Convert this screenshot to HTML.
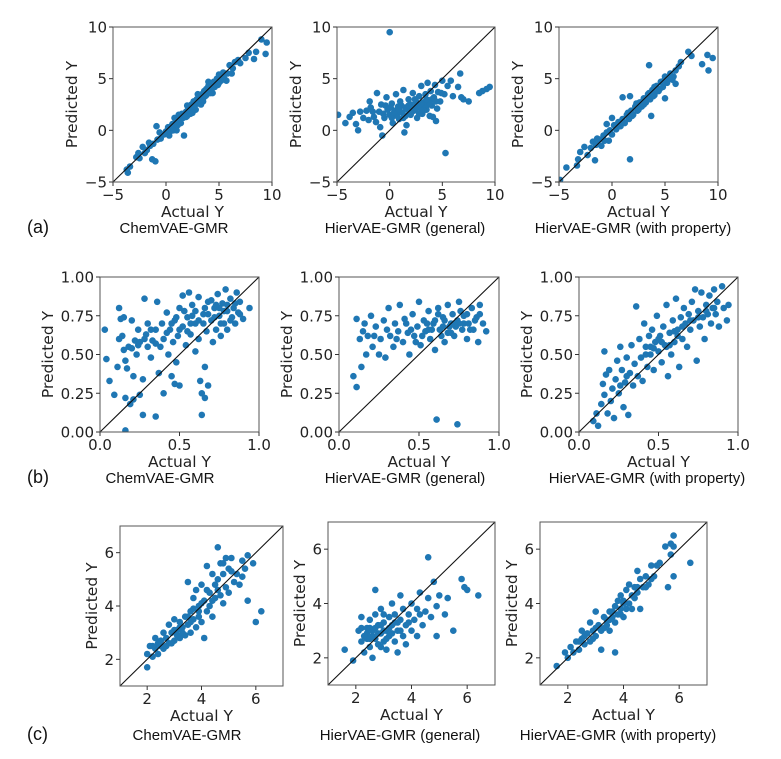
<!DOCTYPE html>
<html><head><meta charset="utf-8">
<style>
html,body{margin:0;padding:0;background:#fff;}
svg{display:block;font-family:"DejaVu Sans","Liberation Sans",sans-serif;}
</style></head>
<body>
<svg id="fig" width="781" height="759" viewBox="0 0 781 759" xmlns="http://www.w3.org/2000/svg"></svg>
<script>
const a1Pts=[[-3.7,-3.8],[-3.6,-4.1],[-3.4,-3.5],[-2.8,-2.6],[-2.5,-2.7],[-2.2,-1.6],[-2,-2.2],[-1.8,-1.9],[-1.5,-1.5],[-1.2,-1.3],[-1,-3],[-1.3,-2.8],[-0.9,0.4],[-0.6,-0.2],[-0.5,-0.8],[-0.2,-0.4],[0,-0.1],[0.2,0.3],[0.3,-0.5],[0.5,0.2],[0.6,0.6],[0.8,0.4],[0.9,0.1],[1,0.9],[1.1,0.5],[1.3,1.1],[1.4,0.7],[1.5,1.6],[1.6,1.2],[1.7,-0.5],[1.8,1.5],[1.9,1.8],[2,1.4],[2.1,2.2],[2.2,1.9],[2.3,1.6],[2.4,2.5],[2.5,2.1],[2.6,2.8],[2.7,2.4],[2.8,2.0],[2.9,3.0],[3,2.6],[3.1,3.3],[3.2,2.9],[3.3,2.5],[3.4,3.5],[3.5,3.1],[3.6,3.8],[3.7,3.3],[3.8,4.0],[3.9,3.6],[4,4.3],[4.1,3.8],[4.2,4.5],[4.3,4.0],[4.4,3.6],[4.5,4.7],[4.6,4.2],[4.8,5.0],[4.9,4.4],[5,5.4],[5.2,4.8],[5.4,5.6],[5.5,5.0],[5.7,4.8],[5.8,5.5],[6,6.3],[6.3,6.0],[6.5,6.6],[6.8,6.8],[7,6.5],[7.5,7.0],[7.8,7.5],[8.3,6.9],[8.5,7.6],[9,8.8],[9.4,7.4],[9.5,8.5],[0.8,1.2],[1.2,1.5],[2.0,2.4],[3.0,3.5],[4.0,4.7],[1.0,0.0],[2.5,1.7],[3.5,2.8],[-2.6,-2.2],[-1.6,-1.2],[-0.8,-0.9],[0.4,-0.1],[0.7,0.0],[1.2,0.9],[1.9,1.3],[2.6,2.3],[3.4,3.0],[4.2,3.6],[4.7,4.5],[5.3,5.2],[6.2,5.5],[5.0,4.6],[3.8,3.4]];
const a2Pts=[[0.0,9.5],[5.3,-2.2],[-4.9,1.5],[9.5,4.2],[9.2,4],[8.8,3.8],[8.5,3.6],[7.5,2.8],[7,3],[6.7,5.5],[6.5,4.2],[6.8,3.2],[-4.2,0.7],[-3.5,1.7],[-3.2,0.6],[-3,0],[-2.8,1.8],[-2.5,1.2],[-2.2,1.9],[-2,1.0],[-1.8,2.2],[-1.5,1.3],[-1.3,0.8],[-1.2,3.6],[-1,1.8],[-0.8,2.5],[-0.7,-0.5],[-0.5,1.2],[-0.3,3.2],[-0.2,2.0],[0,1.5],[0.2,2.6],[0.3,0.7],[0.5,1.9],[0.6,3.5],[0.8,2.3],[0.9,1.1],[1,2.8],[1.2,1.7],[1.3,3.9],[1.5,2.2],[1.6,0.5],[1.8,3.0],[1.9,1.6],[2,2.5],[2.2,3.6],[2.3,1.9],[2.5,2.8],[2.6,1.2],[2.8,3.3],[2.9,2.2],[3,4.3],[3.1,1.6],[3.2,2.7],[3.4,3.5],[3.5,2.0],[3.6,4.6],[3.7,2.9],[3.8,1.4],[3.9,3.8],[4,2.4],[4.2,3.2],[4.3,4.4],[4.5,2.1],[4.6,3.7],[4.8,2.8],[5,4.8],[5.2,3.5],[5.5,4.3],[5.8,4.8],[6,3.3],[4.1,1.3],[-3.8,1.3],[-1.9,2.8],[0.1,2.2],[1.1,2.4],[2.1,1.8],[3.3,2.4],[2.7,2.3],[1.7,2.0],[0.7,1.4],[-0.6,1.6],[4.4,0.9],[1.4,-0.2],[-0.9,0.3],[2.4,2.0],[3.0,2.6],[3.6,2.5],[2.0,1.5],[1.0,1.8],[4.0,3.0],[3.2,1.9],[2.6,2.6],[1.5,1.4],[0.4,1.7],[-1.6,1.8],[-0.4,2.4],[0.9,2.0],[1.8,2.4],[2.4,3.0],[3.0,1.9],[3.8,2.6],[4.4,2.8],[2.2,2.2],[1.3,1.2],[0.2,1.2],[3.5,3.0],[2.8,1.6],[4.9,3.6]];
const a3Pts=[[3.5,6.3],[1.7,-2.8],[-4.9,-4.8],[-4.3,-3.6],[8.5,6.4],[9,7.3],[9.1,5.8],[9.5,7],[7.2,7.6],[7.5,7.2],[6.5,6.6],[-1.6,-2.9],[-0.5,0.6],[-0.3,-1.0],[3.7,1.4],[5,3.1],[6,4.5],[4,3.5],[1,3.2],[1.7,3.3],[0,1.2],[-3.3,-3.4],[-3.2,-2.8],[-3,-2.1],[-2.6,-1.6],[-2.3,-2.4],[-2,-1.7],[-1.8,-1.1],[-1.5,-1.4],[-1.2,-0.9],[-1,-1.5],[-0.8,-0.5],[-0.5,-0.2],[-0.2,0.0],[0,-0.4],[0.2,0.5],[0.4,0.1],[0.6,0.8],[0.8,0.4],[1,1.1],[1.2,0.7],[1.4,1.5],[1.6,1.1],[1.8,1.9],[2,1.5],[2.2,2.3],[2.4,1.9],[2.6,2.7],[2.8,2.3],[3,3.1],[3.2,2.7],[3.4,3.5],[3.6,3.0],[3.8,3.9],[4,3.4],[4.2,4.3],[4.4,3.8],[4.6,4.7],[4.8,4.2],[5,5.2],[5.2,4.6],[5.5,5.5],[5.7,4.9],[6,5.8],[6.3,6.2],[2.5,2.0],[3.5,3.6],[4.5,4.0],[1.5,1.7],[0.5,0.3],[3.0,2.5],[4.0,4.2],[5.8,5.2],[-1.4,-0.8],[-0.7,-1.0],[0.9,0.9],[1.9,1.4],[2.9,2.8],[3.9,3.3],[4.9,4.8],[5.4,5.0],[2.3,2.6],[3.3,3.0]];
const b1Pts=[[0.03,0.66],[0.04,0.47],[0.06,0.33],[0.09,0.24],[0.11,0.42],[0.12,0.8],[0.12,0.6],[0.13,0.73],[0.14,0.62],[0.15,0.53],[0.15,0.74],[0.16,0.46],[0.16,0.22],[0.16,0.01],[0.17,0.41],[0.18,0.55],[0.19,0.18],[0.2,0.72],[0.21,0.36],[0.21,0.21],[0.22,0.59],[0.23,0.5],[0.24,0.66],[0.25,0.24],[0.25,0.58],[0.27,0.34],[0.27,0.11],[0.28,0.86],[0.29,0.63],[0.3,0.55],[0.3,0.7],[0.32,0.48],[0.33,0.59],[0.35,0.1],[0.35,0.66],[0.36,0.84],[0.37,0.38],[0.38,0.55],[0.39,0.7],[0.4,0.6],[0.4,0.25],[0.42,0.77],[0.43,0.5],[0.44,0.66],[0.45,0.36],[0.46,0.58],[0.47,0.31],[0.47,0.72],[0.48,0.45],[0.49,0.62],[0.5,0.8],[0.5,0.3],[0.52,0.68],[0.52,0.88],[0.54,0.56],[0.55,0.74],[0.56,0.9],[0.57,0.63],[0.58,0.82],[0.6,0.7],[0.6,0.52],[0.62,0.87],[0.62,0.6],[0.63,0.33],[0.64,0.11],[0.64,0.25],[0.65,0.76],[0.66,0.22],[0.66,0.42],[0.67,0.65],[0.68,0.3],[0.68,0.84],[0.7,0.72],[0.71,0.58],[0.72,0.8],[0.73,0.66],[0.74,0.89],[0.75,0.75],[0.76,0.62],[0.77,0.83],[0.78,0.7],[0.79,0.92],[0.8,0.78],[0.8,0.66],[0.82,0.86],[0.83,0.74],[0.84,0.8],[0.85,0.7],[0.86,0.9],[0.87,0.77],[0.88,0.84],[0.9,0.73],[0.94,0.8],[0.55,0.65],[0.6,0.78],[0.7,0.85],[0.75,0.8],[0.8,0.82],[0.65,0.7],[0.45,0.7],[0.58,0.75],[0.85,0.83],[0.62,0.72],[0.72,0.74],[0.78,0.78],[0.5,0.66],[0.24,0.56],[0.28,0.6],[0.32,0.66],[0.42,0.64],[0.48,0.74],[0.53,0.78],[0.57,0.7],[0.68,0.76],[0.73,0.82],[0.82,0.72],[0.88,0.76],[0.76,0.7],[0.66,0.8],[0.35,0.57],[0.2,0.54]];
const b2Pts=[[0.09,0.36],[0.11,0.29],[0.14,0.42],[0.61,0.08],[0.74,0.05],[0.11,0.73],[0.13,0.6],[0.15,0.65],[0.17,0.5],[0.18,0.62],[0.2,0.75],[0.21,0.55],[0.23,0.68],[0.25,0.5],[0.26,0.6],[0.28,0.72],[0.29,0.48],[0.31,0.8],[0.32,0.62],[0.34,0.55],[0.35,0.7],[0.37,0.65],[0.38,0.82],[0.4,0.58],[0.41,0.73],[0.43,0.64],[0.44,0.5],[0.46,0.76],[0.47,0.62],[0.49,0.68],[0.5,0.84],[0.51,0.56],[0.53,0.72],[0.54,0.65],[0.56,0.78],[0.57,0.6],[0.59,0.7],[0.6,0.53],[0.62,0.8],[0.63,0.66],[0.65,0.74],[0.66,0.58],[0.68,0.82],[0.69,0.68],[0.71,0.76],[0.72,0.62],[0.74,0.72],[0.75,0.84],[0.77,0.66],[0.78,0.75],[0.8,0.6],[0.81,0.7],[0.83,0.8],[0.84,0.66],[0.86,0.74],[0.87,0.58],[0.88,0.82],[0.9,0.7],[0.92,0.65],[0.55,0.7],[0.65,0.68],[0.7,0.7],[0.6,0.72],[0.75,0.7],[0.45,0.66],[0.8,0.76],[0.85,0.72],[0.52,0.62],[0.58,0.66],[0.68,0.64],[0.73,0.68],[0.78,0.7],[0.62,0.76],[0.42,0.7],[0.16,0.7],[0.22,0.62],[0.3,0.66],[0.36,0.6],[0.48,0.58],[0.56,0.66],[0.64,0.62],[0.7,0.64],[0.76,0.78],[0.82,0.66],[0.88,0.76],[0.66,0.72],[0.72,0.7]];
const b3Pts=[[0.09,0.07],[0.11,0.12],[0.12,0.04],[0.14,0.18],[0.15,0.31],[0.16,0.24],[0.16,0.52],[0.17,0.37],[0.18,0.12],[0.19,0.4],[0.2,0.2],[0.21,0.28],[0.22,0.09],[0.23,0.34],[0.24,0.46],[0.25,0.25],[0.26,0.55],[0.27,0.4],[0.28,0.16],[0.29,0.32],[0.3,0.48],[0.31,0.11],[0.32,0.38],[0.33,0.56],[0.34,0.3],[0.35,0.44],[0.36,0.81],[0.37,0.36],[0.38,0.6],[0.39,0.48],[0.4,0.33],[0.41,0.7],[0.42,0.55],[0.43,0.42],[0.44,0.62],[0.45,0.5],[0.46,0.66],[0.47,0.4],[0.48,0.58],[0.49,0.75],[0.5,0.52],[0.51,0.62],[0.52,0.45],[0.53,0.68],[0.54,0.56],[0.55,0.82],[0.56,0.36],[0.57,0.64],[0.58,0.5],[0.59,0.72],[0.6,0.58],[0.61,0.86],[0.62,0.66],[0.63,0.42],[0.64,0.74],[0.65,0.6],[0.66,0.8],[0.67,0.7],[0.68,0.55],[0.69,0.76],[0.7,0.66],[0.71,0.84],[0.72,0.72],[0.73,0.92],[0.74,0.46],[0.75,0.78],[0.76,0.68],[0.77,0.9],[0.78,0.74],[0.79,0.6],[0.8,0.82],[0.81,0.76],[0.82,0.88],[0.83,0.7],[0.84,0.8],[0.85,0.92],[0.86,0.76],[0.87,0.84],[0.88,0.68],[0.9,0.94],[0.91,0.8],[0.93,0.72],[0.94,0.82],[0.5,0.6],[0.55,0.55],[0.6,0.65],[0.45,0.55],[0.7,0.72],[0.8,0.78],[0.65,0.68],[0.47,0.54],[0.52,0.58],[0.57,0.56],[0.62,0.62],[0.42,0.5],[0.75,0.74],[0.85,0.8],[0.3,0.36],[0.26,0.3]];
const c1Pts=[[2,1.7],[2,2.2],[2.1,2.5],[2.2,2.1],[2.3,2.8],[2.3,2.4],[2.4,2.2],[2.5,2.7],[2.6,3.0],[2.6,2.4],[2.7,2.8],[2.8,3.3],[2.8,2.6],[2.9,3.0],[3,2.7],[3,3.5],[3.1,3.1],[3.2,2.8],[3.2,3.4],[3.3,3.2],[3.4,3.6],[3.4,2.9],[3.5,4.9],[3.5,3.3],[3.6,3.8],[3.6,3.0],[3.7,4.3],[3.7,3.5],[3.8,4.6],[3.8,3.2],[3.9,4.0],[3.9,3.6],[4,4.8],[4,3.4],[4.1,4.2],[4.1,2.8],[4.2,5.5],[4.2,3.8],[4.3,4.5],[4.3,4.0],[4.4,5.2],[4.4,3.6],[4.5,4.8],[4.5,4.3],[4.6,6.2],[4.6,5.0],[4.7,4.4],[4.7,5.6],[4.8,5.2],[4.8,4.1],[4.9,5.8],[4.9,4.7],[5,5.4],[5,4.5],[5.1,5.8],[5.2,4.9],[5.3,5.2],[5.4,4.8],[5.5,5.7],[5.6,5.4],[5.7,4.2],[5.7,5.9],[5.9,5.6],[6,3.4],[6.2,3.8],[5.5,5.1],[3.0,3.1],[2.5,2.5],[3.3,3.0],[3.9,3.8],[4.4,4.2],[2.4,2.6],[2.7,2.5],[3.1,2.9],[3.6,3.4],[2.2,2.5],[2.9,2.6],[3.5,3.6],[4.0,4.1],[4.6,4.6],[5.1,5.3],[4.8,5.6],[4.2,4.6],[3.7,3.9],[3.2,3.2]];
const c2Pts=[[1.6,2.3],[1.9,1.9],[2.7,4.5],[4.6,5.7],[6.4,4.3],[5.5,3],[4.9,2.8],[5.9,4.6],[5.8,4.9],[6,4.5],[2.1,3.0],[2.2,2.6],[2.2,3.5],[2.3,2.2],[2.4,3.1],[2.4,2.7],[2.5,3.4],[2.5,2.4],[2.6,3.0],[2.6,2.0],[2.7,2.7],[2.7,3.6],[2.8,3.2],[2.8,2.5],[2.9,2.9],[2.9,3.8],[3,3.3],[3,2.6],[3.1,3.0],[3.1,2.3],[3.2,3.5],[3.2,2.8],[3.3,4.0],[3.3,3.2],[3.4,2.6],[3.4,3.6],[3.5,3.0],[3.5,2.2],[3.6,3.4],[3.6,4.3],[3.7,2.8],[3.7,3.8],[3.8,3.2],[3.8,2.5],[3.9,3.6],[4,3.0],[4,4.0],[4.1,3.4],[4.2,2.8],[4.2,3.8],[4.3,4.4],[4.4,3.2],[4.5,3.7],[4.6,4.2],[4.7,3.5],[4.8,4.8],[4.9,3.9],[5,4.3],[5.2,3.6],[5.3,4.2],[2.9,3.2],[3.3,2.9],[2.6,2.8],[3.0,3.0],[3.5,3.3],[2.4,2.9],[2.8,2.9],[3.2,3.1],[2.5,3.1],[3.4,3.3],[2.3,2.8],[2.7,3.1],[3.1,2.7],[3.6,3.0],[2.2,3.1],[3.0,3.6],[3.9,3.3],[4.3,3.6],[2.5,2.7],[2.9,2.4]];
const c3Pts=[[1.6,1.7],[1.9,2.2],[2,2.0],[2.1,2.4],[2.2,2.2],[2.3,2.6],[2.4,2.3],[2.5,2.7],[2.5,3.0],[2.6,2.5],[2.7,2.9],[2.8,2.6],[2.8,3.3],[2.9,3.0],[3,2.8],[3,3.7],[3.1,3.2],[3.2,3.0],[3.2,2.3],[3.3,3.5],[3.4,3.2],[3.5,3.7],[3.5,3.0],[3.6,3.5],[3.7,3.9],[3.7,2.2],[3.7,3.3],[3.8,4.1],[3.8,3.6],[3.9,4.3],[3.9,3.8],[4,4.1],[4,3.5],[4.1,4.5],[4.1,3.8],[4.2,4.7],[4.2,4.0],[4.3,3.8],[4.4,4.6],[4.4,4.2],[4.5,5.2],[4.5,4.4],[4.6,4.9],[4.6,3.8],[4.7,4.6],[4.8,5.0],[4.9,4.7],[5,5.4],[5.1,5.0],[5.2,5.4],[5.3,5.5],[5.5,6.1],[5.6,4.6],[5.7,6.2],[5.7,5.8],[5.8,6.5],[5.8,5.0],[5.8,6.1],[6.4,5.5],[3.4,3.4],[4.0,4.0],[3.0,3.1],[4.8,4.6],[2.6,2.8],[3.3,3.1],[3.6,3.7],[4.3,4.3],[2.4,2.6],[2.9,2.7],[3.5,3.4],[3.9,3.6],[4.5,4.6],[5.0,4.9]];

const rangeA=[-5,10], ticksA=[-5,0,5,10], tickLabA=["\u22125","0","5","10"];
const rangeB=[0,1], ticksBx=[0,0.5,1], tickLabBx=["0.0","0.5","1.0"], ticksBy=[0,0.25,0.5,0.75,1], tickLabBy=["0.00","0.25","0.50","0.75","1.00"];
const rangeC=[1,7], ticksC=[2,4,6], tickLabC=["2","4","6"];

const panels=[
 {id:'a1',box:[113,27,272,182],r:rangeA,xt:ticksA,xl:tickLabA,yt:ticksA,yl:tickLabA,pts:a1Pts,yoff:41},
 {id:'a2',box:[337,27,495,182],r:rangeA,xt:ticksA,xl:tickLabA,yt:ticksA,yl:tickLabA,pts:a2Pts,yoff:41},
 {id:'a3',box:[559,27,718,182],r:rangeA,xt:ticksA,xl:tickLabA,yt:ticksA,yl:tickLabA,pts:a3Pts,yoff:41},
 {id:'b1',box:[100,277,259,432],r:rangeB,xt:ticksBx,xl:tickLabBx,yt:ticksBy,yl:tickLabBy,pts:b1Pts,yoff:52},
 {id:'b2',box:[339,277,499,432],r:rangeB,xt:ticksBx,xl:tickLabBx,yt:ticksBy,yl:tickLabBy,pts:b2Pts,yoff:52},
 {id:'b3',box:[579,277,738,432],r:rangeB,xt:ticksBx,xl:tickLabBx,yt:ticksBy,yl:tickLabBy,pts:b3Pts,yoff:52},
 {id:'c1',box:[120,526,283,686],r:rangeC,xt:ticksC,xl:tickLabC,yt:ticksC,yl:tickLabC,pts:c1Pts,yoff:28},
 {id:'c2',box:[328,522,495,685],r:rangeC,xt:ticksC,xl:tickLabC,yt:ticksC,yl:tickLabC,pts:c2Pts,yoff:28},
 {id:'c3',box:[540,522,707,685],r:rangeC,xt:ticksC,xl:tickLabC,yt:ticksC,yl:tickLabC,pts:c3Pts,yoff:28}
];
const captions=[
 ['(a)',27,233,'start'],['ChemVAE-GMR',174,233,'middle'],['HierVAE-GMR (general)',405,233,'middle'],['HierVAE-GMR (with property)',633,233,'middle'],
 ['(b)',27,483,'start'],['ChemVAE-GMR',160,483,'middle'],['HierVAE-GMR (general)',405,483,'middle'],['HierVAE-GMR (with property)',647,483,'middle'],
 ['(c)',27,740,'start'],['ChemVAE-GMR',187,740,'middle'],['HierVAE-GMR (general)',400,740,'middle'],['HierVAE-GMR (with property)',618,740,'middle']
];
const NS='http://www.w3.org/2000/svg';
const svg=document.getElementById('fig');
function mk(tag,attrs,parent){const e=document.createElementNS(NS,tag);for(const k in attrs)e.setAttribute(k,attrs[k]);(parent||svg).appendChild(e);return e;}
panels.forEach(p=>{
  const [x0,y0,x1,y1]=p.box;
  const sx=v=>x0+(v-p.r[0])/(p.r[1]-p.r[0])*(x1-x0);
  const sy=v=>y1-(v-p.r[0])/(p.r[1]-p.r[0])*(y1-y0);
  const g=mk('g',{});
  
  
  const clip=mk('clipPath',{id:'clip-'+p.id},g);
  mk('rect',{x:x0,y:y0,width:x1-x0,height:y1-y0},clip);
  const pg=mk('g',{'clip-path':'url(#clip-'+p.id+')'},g);
  
  
  p.pts.forEach(d=>{
    const c=mk('circle',{cx:sx(d[0]).toFixed(1),cy:sy(d[1]).toFixed(1),r:3.3,fill:'#1f77b4'},pg);
    
    
  });
  const dl=mk('line',{x1:sx(p.r[0]),y1:sy(p.r[0]),x2:sx(p.r[1]),y2:sy(p.r[1]),stroke:'#111','stroke-width':1.1},g);
  
  
  const fr=mk('rect',{x:x0,y:y0,width:x1-x0,height:y1-y0,fill:'none',stroke:'#555','stroke-width':1},g);
  
  
  p.xt.forEach((t,i)=>{
    const x=sx(t);
    mk('line',{x1:x,y1:y1,x2:x,y2:y1+4,stroke:'#333'},g);
    const tx=mk('text',{x:x,y:y1+18,'text-anchor':'middle','font-size':15,fill:'#222'},g);
    tx.textContent=p.xl[i];
    
    
  });
  p.yt.forEach((t,i)=>{
    const y=sy(t);
    mk('line',{x1:x0-4,y1:y,x2:x0,y2:y,stroke:'#333'},g);
    const tx=mk('text',{x:x0-6,y:y+5.5,'text-anchor':'end','font-size':15,fill:'#222'},g);
    tx.textContent=p.yl[i];
    
    
  });
  const xt=mk('text',{x:(x0+x1)/2,y:y1+35,'text-anchor':'middle','font-size':15.5,fill:'#222'},g);
  xt.textContent='Actual Y';
  
  
  const cx=x0-p.yoff+5, cy=(y0+y1)/2;
  const yt=mk('text',{x:cx,y:cy,'text-anchor':'middle','font-size':15.5,fill:'#222',transform:'rotate(-90 '+cx+' '+cy+')'},g);
  yt.textContent='Predicted Y';
  
  
});
captions.forEach(c=>{
  const t=mk('text',{x:c[1],y:c[2],'text-anchor':c[3],'font-size':c[0].length<4?18:15,fill:'#111','font-family':'Liberation Sans, sans-serif'});
  t.textContent=c[0];
  
  
});
</script>
</body></html>
